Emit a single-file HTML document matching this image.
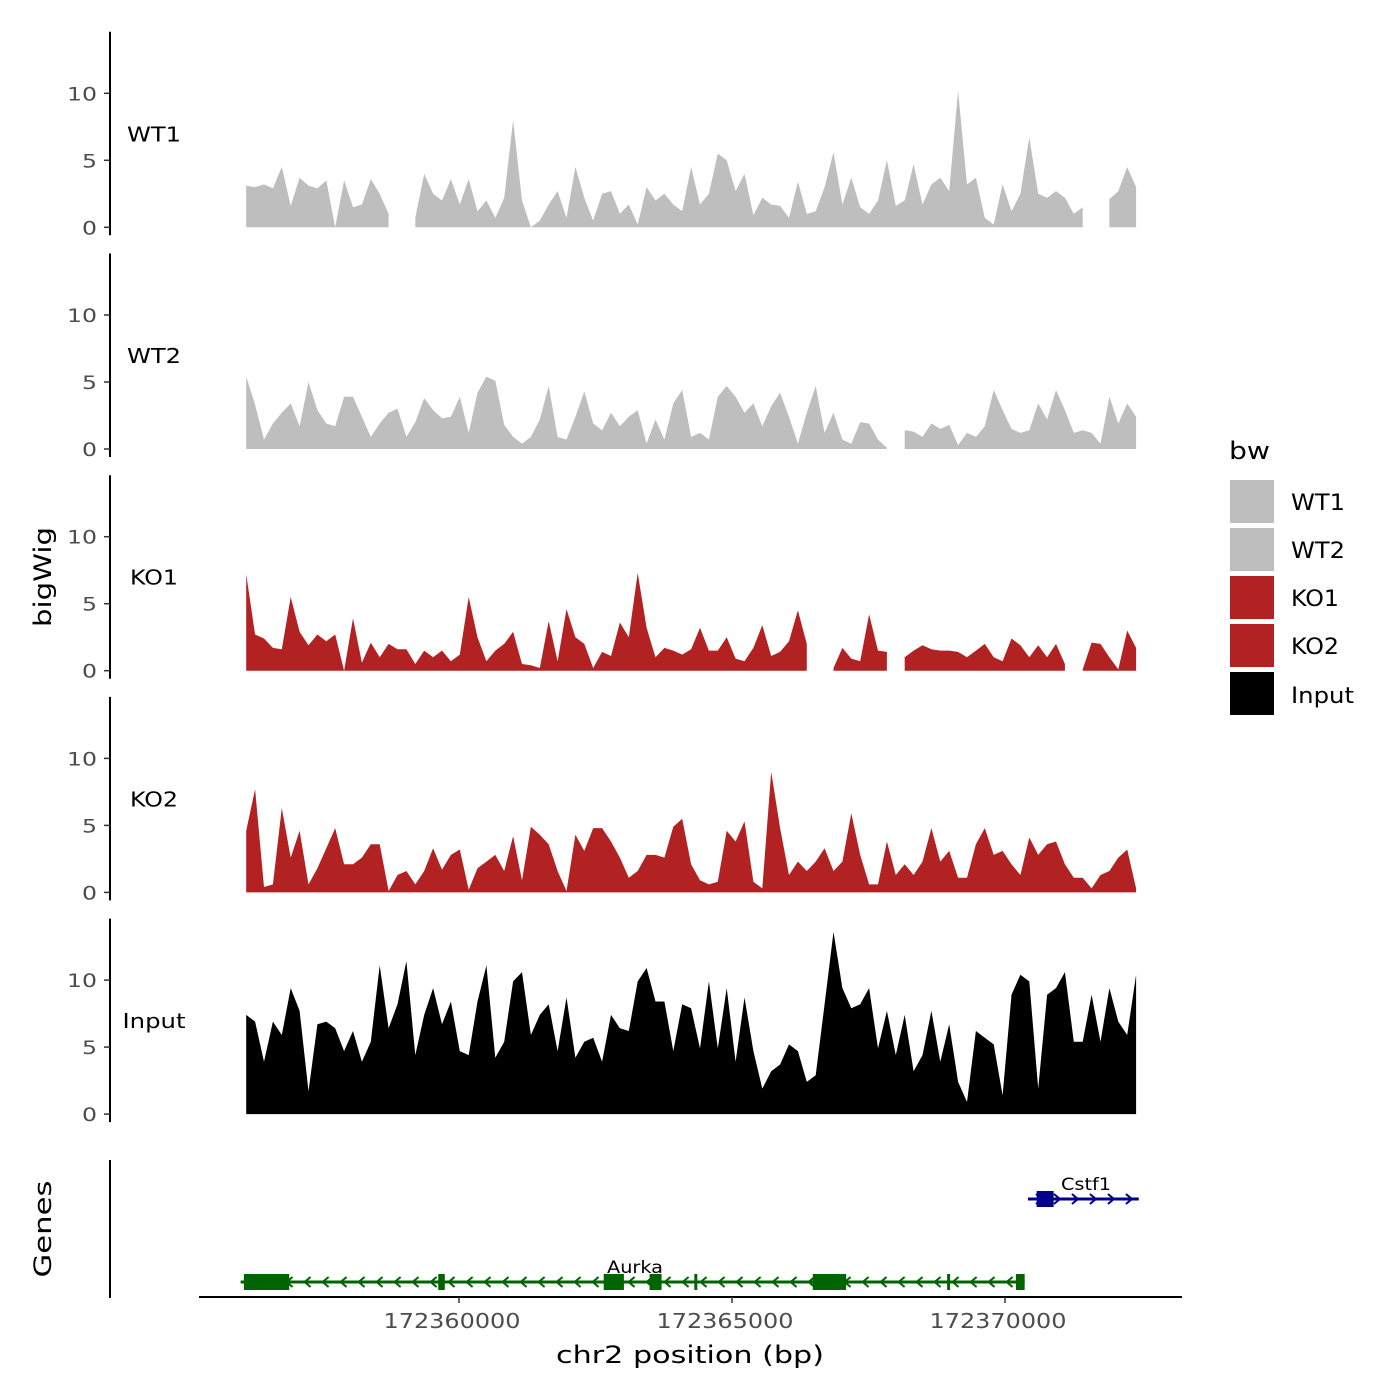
<!DOCTYPE html>
<html><head><meta charset="utf-8"><style>
body{margin:0;background:#fff}
svg{display:block;font-family:"DejaVu Sans","Liberation Sans",sans-serif}
</style></head><body>
<svg id="chart" width="1400" height="1400" viewBox="0 0 1400 1400" xmlns="http://www.w3.org/2000/svg">
<g id="tracks"></g>
<g id="genes"></g>
<g id="axes"></g>
<text transform="translate(51,577) rotate(-90)" text-anchor="middle" font-size="24" textLength="100" lengthAdjust="spacingAndGlyphs">bigWig</text>
<text transform="translate(51,1229) rotate(-90)" text-anchor="middle" font-size="24" textLength="97" lengthAdjust="spacingAndGlyphs">Genes</text>
<text x="690" y="1363" text-anchor="middle" font-size="24" textLength="268" lengthAdjust="spacingAndGlyphs">chr2 position (bp)</text>
<g>
<text x="1229" y="459" font-size="24" textLength="41" lengthAdjust="spacingAndGlyphs">bw</text>
<rect x="1230" y="480" width="44" height="43" fill="#bebebe"/>
<rect x="1230" y="528" width="44" height="43" fill="#bebebe"/>
<rect x="1230" y="576" width="44" height="43" fill="#b22222"/>
<rect x="1230" y="624" width="44" height="43" fill="#b22222"/>
<rect x="1230" y="672" width="44" height="43" fill="#000"/>
<text x="1291" y="510" font-size="22" textLength="54" lengthAdjust="spacingAndGlyphs">WT1</text>
<text x="1291" y="558" font-size="22" textLength="54" lengthAdjust="spacingAndGlyphs">WT2</text>
<text x="1291" y="606" font-size="22" textLength="48" lengthAdjust="spacingAndGlyphs">KO1</text>
<text x="1291" y="654" font-size="22" textLength="48" lengthAdjust="spacingAndGlyphs">KO2</text>
<text x="1291" y="703" font-size="22" textLength="63" lengthAdjust="spacingAndGlyphs">Input</text>
</g>
</svg>
<script>
const trackNames = ["WT1","WT2","KO1","KO2","Input"];
const trackColors = ["#bebebe","#bebebe","#b22222","#b22222","#000000"];
const regionStart = 172356102;
const regionEnd = 172372401;
const yTicks = [0,5,10];
const xTicks = [172360000,172365000,172370000];
const xTickLabels = ["172360000","172365000","172370000"];
const wt1 = [3.1,3,3.2,2.9,4.5,1.6,3.7,3.1,2.9,3.5,0,3.5,1.5,1.7,3.6,2.5,1,null,null,0.7,4,2.5,2,3.6,1.7,3.6,1.2,2,0.7,2.2,8,2,0,0.5,1.7,2.7,0.7,4.5,2.2,0.5,2.5,2.7,1,1.7,0.2,3,2,2.5,1.7,1.2,4.5,1.7,2.5,5.5,5,2.7,4,0.9,2.2,1.7,1.6,0.7,3.4,1,1.2,3,5.6,1.7,3.7,1.5,1,2,5,1.6,2,4.7,1.7,3.2,3.7,2.7,10.2,3.2,3.7,0.7,0.2,3.2,1.2,2.5,6.7,2.5,2.2,2.7,2.2,1,1.5,null,null,2.1,2.7,4.5,3];
const wt2 = [5.4,3.3,0.7,1.9,2.7,3.4,1.7,5,2.9,1.9,1.7,3.9,3.9,2.4,0.9,1.9,2.7,3,0.9,2,3.8,2.9,2.3,2.4,3.9,1.2,4.2,5.4,5.1,1.8,0.9,0.4,0.9,2.2,4.7,0.9,0.7,2.4,4.3,1.9,1.4,2.7,1.7,2.4,2.9,0.4,2.2,0.7,3.4,4.4,0.9,1.2,0.7,3.9,4.7,3.9,2.7,3.4,1.7,3.2,4.2,2.4,0.4,2.7,4.7,1.2,2.7,0.7,0.4,2,1.9,0.7,0.1,null,1.4,1.3,0.9,1.9,1.5,1.8,0.3,1.2,0.9,1.7,4.4,2.9,1.5,1.2,1.4,3.4,2.2,4.4,2.9,1.2,1.4,1.2,0.4,3.9,1.9,3.4,2.4];
const ko1 = [7.2,2.7,2.4,1.7,1.6,5.5,2.9,1.9,2.7,2.2,2.7,0,3.9,0.6,2.1,1,2,1.6,1.6,0.5,1.5,1,1.5,0.7,1.2,5.5,2.5,0.7,1.5,2,2.9,0.5,0.4,0.2,3.7,0.7,4.6,2.5,2,0.2,1.4,1.1,3.6,2.5,7.3,3.2,1,1.7,1.5,1.2,1.6,3.2,1.5,1.5,2.5,0.9,0.7,1.7,3.4,1.1,1.4,2.2,4.5,2,null,null,0.2,1.7,0.9,0.7,4.2,1.5,1.4,null,1,1.5,1.9,1.6,1.5,1.5,1.4,1,1.5,2,1,0.7,2.4,1.9,1,1.9,1,2,0.5,null,0.1,2.1,2,1,0.1,3,1.7];
const ko2 = [4.6,7.7,0.4,0.6,6.3,2.6,4.6,0.6,1.8,3.3,4.8,2.1,2.1,2.6,3.6,3.6,0.1,1.3,1.6,0.6,1.6,3.3,1.7,2.8,3.2,0.2,1.8,2.3,2.8,1.6,4.2,0.9,4.9,4.3,3.6,1.6,0.1,4.3,3.1,4.8,4.8,3.8,2.6,1.1,1.6,2.8,2.8,2.6,4.9,5.5,2.1,0.9,0.6,0.8,4.6,3.8,5.3,0.8,0.3,9,4.8,1.3,2.3,1.6,2.3,3.3,1.6,2.3,5.9,2.8,0.6,0.6,3.8,1.3,2.1,1.3,2.3,4.8,2.3,3.1,1.1,1.1,3.6,4.8,2.8,3.1,2.1,1.3,4.1,2.8,3.6,3.8,2.1,1.1,1.1,0.3,1.3,1.6,2.6,3.2,0.3];
const input = [7.4,6.9,3.9,6.9,5.9,9.4,7.7,1.7,6.7,6.9,6.4,4.7,6.2,3.9,5.4,11.1,6.4,8.2,11.4,4.4,7.4,9.4,6.7,8.4,4.7,4.4,8.4,11.1,4.2,5.4,9.9,10.6,5.9,7.4,8.2,4.7,8.7,4.2,5.4,5.7,3.9,7.4,6.4,6.2,9.9,10.9,8.4,8.4,4.7,8.2,7.9,4.9,9.9,4.9,9.4,3.9,8.7,4.7,1.9,3.2,3.7,5.2,4.7,2.4,2.9,8.2,13.6,9.4,7.9,8.2,9.4,4.9,7.7,4.4,7.4,3.2,4.4,7.7,3.9,6.7,2.4,0.9,6.2,5.7,5.2,1.4,8.9,10.4,9.9,1.9,8.9,9.4,10.6,5.4,5.4,8.9,5.4,9.4,6.9,5.9,10.4];
const seriesValues = [wt1,wt2,ko1,ko2,input];
const geneNames = ["Aurka","Cstf1"];
const geneStarts = [172356000,172370420];
const geneEnds = [172370360,172372450];
const geneStrands = [-1,1];
const geneColors = ["#006400","#00008b"];
const aurkaExonStarts = [172356060,172356550,172359620,172362650,172363490,172364310,172366480,172368940,172370200];
const aurkaExonEnds = [172356890,172356730,172359740,172363020,172363710,172364360,172367090,172368990,172370360];
const cstf1ExonStarts = [172370580];
const cstf1ExonEnds = [172370890];

const NS="http://www.w3.org/2000/svg";
const xScale = bp => 459 + (bp-172360000)*0.0546;
const yUnit = 13.4;
const baseY = k => 227.3 + k*221.7;
function mk(tag, attrs, parent){const e=document.createElementNS(NS,tag);for(const k in attrs)e.setAttribute(k,attrs[k]);parent.appendChild(e);return e;}
const tracks=document.getElementById('tracks'), axes=document.getElementById('axes'), genes=document.getElementById('genes');
const labelLen = {WT1:54,WT2:54,KO1:48,KO2:48,Input:63};

seriesValues.forEach((vals,k)=>{
  const b=baseY(k), n=vals.length, step=(regionEnd-regionStart)/(n-1);
  let segs=[], cur=[];
  vals.forEach((v,i)=>{ if(v===null){ if(cur.length)segs.push(cur); cur=[]; } else cur.push([xScale(regionStart+i*step), b - v*yUnit]); });
  if(cur.length)segs.push(cur);
  segs.forEach(s=>{
    let d='M'+s[0][0].toFixed(1)+','+b+' '+s.map(p=>'L'+p[0].toFixed(1)+','+p[1].toFixed(1)).join(' ')+' L'+s[s.length-1][0].toFixed(1)+','+b+'Z';
    const p=mk('path',{d:d,fill:trackColors[k]},tracks);
    
    
  });
  const ax=mk('line',{x1:110,x2:110,y1:b-195.5,y2:b+8,stroke:'#000','stroke-width':2},axes);
  
  
  yTicks.forEach(t=>{
    const y=b-t*yUnit;
    const tk=mk('line',{x1:104,x2:110,y1:y,y2:y,stroke:'#333','stroke-width':1.5},axes);
    
    
    const tl=mk('text',{x:97,y:y+7,'text-anchor':'end','font-size':19,fill:'#4d4d4d',textLength:String(t).length*15,lengthAdjust:'spacingAndGlyphs'},axes);
    
    
    tl.textContent=t;
  });
  const lab=mk('text',{x:154,y:b-86,'text-anchor':'middle','font-size':20,textLength:labelLen[trackNames[k]],lengthAdjust:'spacingAndGlyphs'},axes);
  
  
  lab.textContent=trackNames[k];
});

const gax=mk('line',{x1:110,x2:110,y1:1160,y2:1298,stroke:'#000','stroke-width':2},axes);


const xax=mk('line',{x1:199,x2:1182,y1:1297,y2:1297,stroke:'#000','stroke-width':2},axes);


xTicks.forEach((t,i)=>{
  const x=xScale(t);
  const tk=mk('line',{x1:x,x2:x,y1:1297,y2:1303,stroke:'#333','stroke-width':1.5},axes);
  
  
  const tl=mk('text',{x:x-7,y:1328,'text-anchor':'middle','font-size':20,fill:'#4d4d4d',textLength:137,lengthAdjust:'spacingAndGlyphs'},axes);
  
  
  tl.textContent=xTickLabels[i];
});

const geneY=[1282,1199];
const geneLabelLen=[56,50];
const exS=[aurkaExonStarts,cstf1ExonStarts], exE=[aurkaExonEnds,cstf1ExonEnds];
geneNames.forEach((g,k)=>{
  const y=geneY[k], c=geneColors[k], x1=xScale(geneStarts[k]), x2=xScale(geneEnds[k]);
  const ln=mk('line',{x1:x1,x2:x2,y1:y,y2:y,stroke:c,'stroke-width':3},genes);
  
  
  for(let x=x1+12;x<x2-4;x+=18){
    const d=geneStrands[k]<0?`M${x+4},${y-5} L${x-2},${y} L${x+4},${y+5}`:`M${x-4},${y-5} L${x+2},${y} L${x-4},${y+5}`;
    const a=mk('path',{d:d,stroke:c,'stroke-width':2,fill:'none'},genes);
    
    
  }
  exS[k].forEach((s,j)=>{
    const xa=xScale(s), xb=xScale(exE[k][j]);
    const r=mk('rect',{x:xa,y:y-8,width:Math.max(xb-xa,3),height:16,fill:c},genes);
    
    
  });
  const lx = k===0 ? 635 : 1086;
  const t=mk('text',{x:lx,y:y-9,'text-anchor':'middle','font-size':17,textLength:geneLabelLen[k],lengthAdjust:'spacingAndGlyphs'},genes);
  
  
  t.textContent=g;
});
</script>
</body></html>
